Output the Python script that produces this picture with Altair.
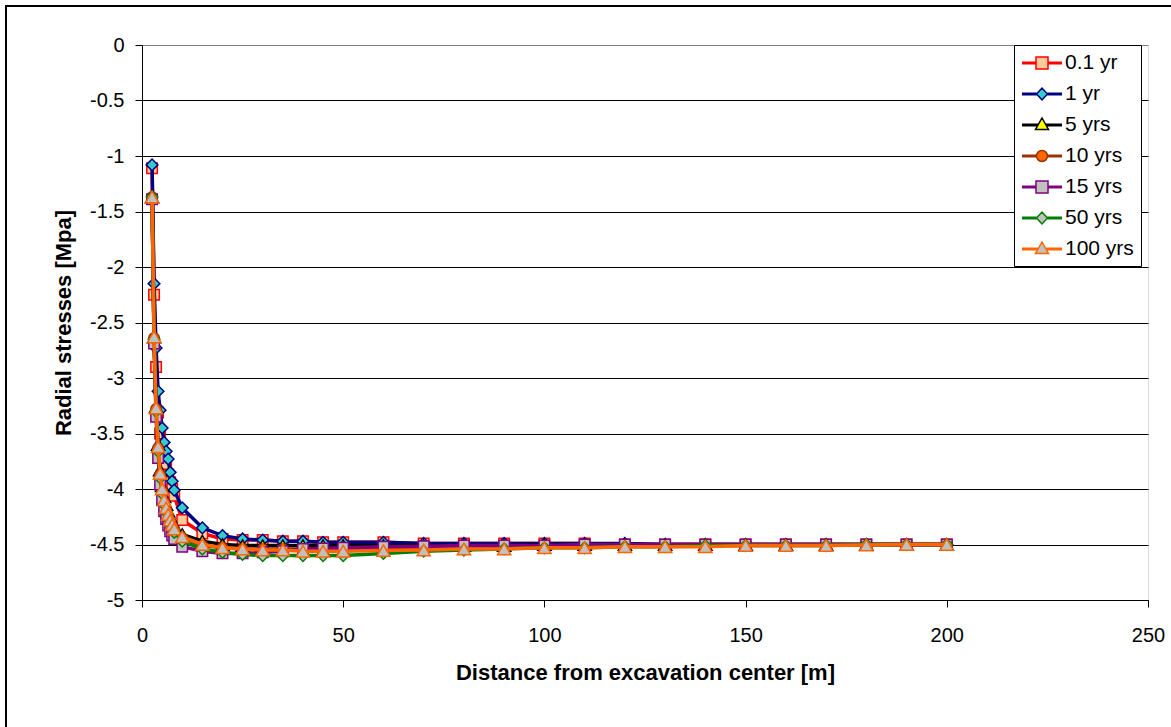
import altair as alt
import pandas as pd

# ---------------- data ----------------
distance = [2.5, 3, 3.5, 4, 4.5, 5, 5.5, 6, 6.5, 7, 7.5, 8,
            10, 15, 20, 25, 30, 35, 40, 45, 50,
            60, 70, 80, 90, 100, 110, 120, 130, 140, 150, 160, 170, 180, 190, 200]

series_names = ["0.1 yr", "1 yr", "5 yrs", "10 yrs", "15 yrs", "50 yrs", "100 yrs"]

stress_0_1yr = [-1.11, -2.25, -2.90, -3.31, -3.50, -3.62, -3.72, -3.80, -3.87, -3.94, -4.00, -4.06,
                -4.28, -4.40, -4.45, -4.46, -4.46, -4.47, -4.47, -4.48, -4.48,
                -4.48, -4.49, -4.49, -4.49, -4.49, -4.49, -4.50, -4.50, -4.50, -4.50, -4.50, -4.50, -4.50, -4.50, -4.50]
stress_1yr = [-1.08, -2.15, -2.73, -3.12, -3.29, -3.45, -3.58, -3.66, -3.73, -3.85, -3.93, -4.01,
              -4.17, -4.35, -4.42, -4.45, -4.46, -4.47, -4.47, -4.48, -4.48,
              -4.48, -4.49, -4.49, -4.49, -4.49, -4.49, -4.49, -4.50, -4.50, -4.50, -4.50, -4.50, -4.50, -4.50, -4.50]
stress_5yrs = [-1.37, -2.63, -3.26, -3.60, -3.83, -3.97, -4.07, -4.14, -4.20, -4.25, -4.29, -4.33,
               -4.41, -4.47, -4.50, -4.51, -4.51, -4.51, -4.51, -4.51, -4.51,
               -4.51, -4.51, -4.51, -4.51, -4.50, -4.50, -4.50, -4.50, -4.50, -4.50, -4.50, -4.50, -4.50, -4.50, -4.50]
stress_10yrs = [-1.37, -2.64, -3.28, -3.63, -3.87, -4.01, -4.11, -4.18, -4.24, -4.29, -4.33, -4.37,
                -4.44, -4.51, -4.53, -4.54, -4.54, -4.54, -4.54, -4.54, -4.54,
                -4.54, -4.53, -4.53, -4.52, -4.52, -4.52, -4.51, -4.51, -4.51, -4.51, -4.51, -4.51, -4.50, -4.50, -4.50]
stress_15yrs = [-1.39, -2.69, -3.35, -3.72, -3.96, -4.10, -4.20, -4.27, -4.33, -4.38, -4.42, -4.45,
                -4.52, -4.56, -4.58, -4.58, -4.57, -4.56, -4.54, -4.535, -4.53,
                -4.52, -4.515, -4.51, -4.51, -4.51, -4.50, -4.50, -4.50, -4.50, -4.50, -4.50, -4.50, -4.50, -4.50, -4.50]
stress_50yrs = [-1.37, -2.65, -3.30, -3.66, -3.90, -4.04, -4.14, -4.21, -4.27, -4.32, -4.36, -4.39,
                -4.47, -4.54, -4.57, -4.59, -4.60, -4.60, -4.60, -4.60, -4.60,
                -4.58, -4.56, -4.55, -4.54, -4.53, -4.53, -4.52, -4.52, -4.51, -4.51, -4.51, -4.51, -4.50, -4.50, -4.50]
stress_100yrs = [-1.37, -2.63, -3.27, -3.62, -3.86, -4.00, -4.10, -4.17, -4.23, -4.28, -4.32, -4.36,
                 -4.43, -4.50, -4.53, -4.54, -4.55, -4.55, -4.56, -4.56, -4.56,
                 -4.555, -4.55, -4.54, -4.54, -4.53, -4.53, -4.52, -4.52, -4.52, -4.51, -4.51, -4.51, -4.505, -4.50, -4.50]

all_series = [stress_0_1yr, stress_1yr, stress_5yrs, stress_10yrs, stress_15yrs, stress_50yrs, stress_100yrs]

x_ticks = [0, 50, 100, 150, 200, 250]
y_ticks = [-5, -4.5, -4, -3.5, -3, -2.5, -2, -1.5, -1, -0.5, 0]

# ---------------- styles ----------------
line_colors = ["#FF0000", "#000080", "#000000", "#993300", "#800080", "#008000", "#FF6600"]
marker_fills = ["#FFCC99", "#33CCCC", "#FFFF00", "#FF6600", "#C0C0C0", "#C0C0C0", "#C0C0C0"]
marker_shapes = ["square", "diamond", "triangle-up", "circle", "square", "diamond", "triangle-up"]
marker_sizes = [110, 135, 175, 110, 110, 135, 175]

# legend symbols: line segment with a marker (unit = 10 px)
LINE_L = "M-1,-0.08 H{a} M-1,0.08 H{a} M{b},-0.08 H3 M{b},0.08 H3 "
leg_square = LINE_L.format(a=0.4, b=1.6) + "M0.4,-0.6 H1.6 V0.6 H0.4 Z"
leg_diamond = LINE_L.format(a=0.45, b=1.55) + "M0.45,0 L1,-0.6 L1.55,0 L1,0.6 Z"
leg_triangle = LINE_L.format(a=0.6, b=1.4) + "M1,-0.7 L1.65,0.45 L0.35,0.45 Z"
leg_circle = LINE_L.format(a=0.45, b=1.55) + "M0.45,0 A0.55,0.55,0,1,0,1.55,0 A0.55,0.55,0,1,0,0.45,0 Z"
legend_paths = [leg_square, leg_diamond, leg_triangle, leg_circle, leg_square, leg_diamond, leg_triangle]

FONT = "Liberation Sans"

rows = []
for name, vals in zip(series_names, all_series):
    for d, v in zip(distance, vals):
        rows.append({"distance": d, "stress": v, "series": name})
df = pd.DataFrame(rows)

x_axis = alt.Axis(values=x_ticks, grid=False, tickSize=7, tickColor="#000000", domainColor="#000000",
                  labelFont=FONT, labelFontSize=20, labelColor="#000000", labelPadding=18,
                  labelFlush=False, labelOverlap=False,
                  title="Distance from excavation center [m]", titleFont=FONT, titleFontSize=22,
                  titleFontWeight="bold", titleColor="#000000", titleY=72, titleBaseline="middle")
y_axis = alt.Axis(values=y_ticks, grid=True,
                  gridColor={"condition": {"test": "datum.value === 0", "value": "#808080"}, "value": "#000000"},
                  tickSize=7, tickColor="#000000", domainColor="#000000",
                  labelFont=FONT, labelFontSize=20, labelColor="#000000", labelPadding=11,
                  labelFlush=False, labelOverlap=False,
                  labelExpr="datum.value < 0 ? '-' + format(-datum.value, '~g') : format(datum.value, '~g')",
                  title="Radial stresses [Mpa]", titleFont=FONT, titleFontSize=22, titleFontWeight="bold",
                  titleColor="#000000", titleX=-79, titleY=277.5, titleAngle=270,
                  titleAlign="center", titleBaseline="middle")

X = alt.X("distance:Q", scale=alt.Scale(domain=[0, 250], nice=False, zero=False), axis=x_axis)
Y = alt.Y("stress:Q", scale=alt.Scale(domain=[-5, 0], nice=False, zero=False), axis=y_axis)

layers = []
for i, name in enumerate(series_names):
    base = alt.Chart(df).transform_filter(alt.datum.series == name)
    layers.append(base.mark_line(color=line_colors[i], strokeWidth=3.5).encode(x=X, y=Y))
    layers.append(base.mark_point(shape=marker_shapes[i], filled=True, fill=marker_fills[i],
                                  stroke=line_colors[i], strokeWidth=1.5, size=marker_sizes[i],
                                  opacity=1).encode(x=X, y=Y))

legend_def = alt.Legend(orient="none", legendX=872, legendY=0, title=None, padding=7,
                        strokeColor="#000000", fillColor="#FFFFFF", symbolSize=400,
                        symbolStrokeWidth=1.5, symbolOpacity=1, labelFont=FONT, labelFontSize=21,
                        labelColor="#000000", labelOffset=22, rowPadding=10)

legend_layer = alt.Chart(df).transform_filter("datum.distance < 0").mark_point(
    filled=True, opacity=1).encode(
    x=X, y=Y,
    shape=alt.Shape("series:N", scale=alt.Scale(domain=series_names, range=legend_paths), legend=legend_def),
    fill=alt.Fill("series:N", scale=alt.Scale(domain=series_names, range=marker_fills), legend=legend_def),
    stroke=alt.Stroke("series:N", scale=alt.Scale(domain=series_names, range=line_colors), legend=legend_def),
)

frame_df = pd.DataFrame({"k": [0]})
frame_left = alt.Chart(frame_df).mark_rule(color="#000000", strokeWidth=2).encode(
    x=alt.value(-136), y=alt.value(-39), y2=alt.value(720))
frame_top = alt.Chart(frame_df).mark_rule(color="#000000", strokeWidth=2).encode(
    x=alt.value(-137), x2=alt.value(1100), y=alt.value(-39))

chart = alt.layer(*layers, legend_layer, frame_left, frame_top).properties(
    width=1006, height=555,
    padding={"left": 142, "top": 45, "right": 23, "bottom": 127},
    autosize=alt.AutoSizeParams(type="none"),
    background="#FFFFFF",
).configure_view(stroke="#808080", strokeWidth=1).configure(font=FONT)

chart.save("out.html", embed_options={"renderer": "svg", "actions": False})
